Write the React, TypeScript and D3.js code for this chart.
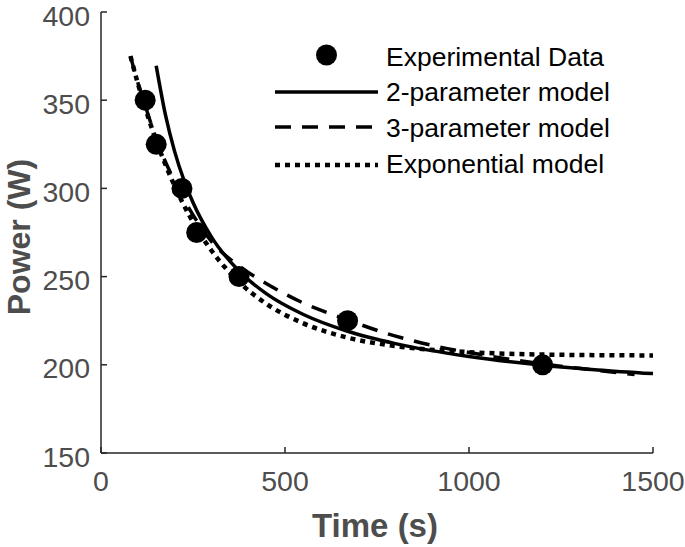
import React from "react";
import * as d3 from "d3";

const xTicks = [0, 500, 1000, 1500];
const yTicks = [150, 200, 250, 300, 350, 400];

const dataT = [120, 150, 220, 260, 375, 670, 1200];
const dataP = [350, 325, 300, 275, 250, 225, 200];

const twoParamT = [150, 175, 200, 225, 250, 300, 375, 450, 550, 670, 800, 1000, 1200, 1350, 1500];
const twoParamP = [369.5, 341.8, 321, 304.9, 292, 272.5, 253.2, 240.2, 228.5, 219, 212, 204.7, 199.8, 197.1, 195];

const threeParamT = [80, 100, 120, 150, 200, 250, 300, 375, 450, 550, 670, 765, 900, 1000, 1100, 1200, 1300, 1450];
const threeParamP = [375, 360, 347, 328, 304, 285, 270, 256, 246, 235, 225.5, 218.5, 211, 207, 203.5, 200.5, 198, 194.5];

const expT = [80, 100, 120, 150, 180, 220, 260, 300, 375, 450, 550, 670, 800, 1000, 1200, 1500];
const expP = [375, 359.6, 345.7, 327, 311, 292.6, 277.4, 264.8, 247, 234.5, 223.5, 215.4, 210.6, 207.2, 205.8, 205.3];

const legendLabels = ["Experimental Data", "2-parameter model", "3-parameter model", "Exponential model"];

const W = 685;
const H = 547;
const left = 101;
const right = 653;
const top = 12;
const bottom = 453;

export default function App() {
  const x = d3.scaleLinear().domain([0, 1500]).range([left, right]);
  const y = d3.scaleLinear().domain([150, 400]).range([bottom, top]);
  const line = d3
    .line<[number, number]>()
    .x((d) => x(d[0]))
    .y((d) => y(d[1]))
    .curve(d3.curveMonotoneX);

  const zip = (a: number[], b: number[]) => a.map((v, i) => [v, b[i]] as [number, number]);

  const axisColor = "#262626";
  const textColor = "#4d4d4d";
  const font = "'Liberation Sans', Arial, Helvetica, sans-serif";
  const lw = 3.5;

  const legX1 = 275;
  const legX2 = 378;
  const legTextX = 386;
  const legLineY = [55, 92, 127, 165];
  const legTextY = [57, 92, 128, 164];

  return (
    <div style={{ position: "absolute", left: 0, top: 0 }}>
      <svg width={W} height={H} style={{ display: "block", background: "#fff" }}>
        {/* axes */}
        <line x1={left} x2={left} y1={top} y2={bottom} stroke={axisColor} strokeWidth={1.5} />
        <line x1={left} x2={right} y1={bottom} y2={bottom} stroke={axisColor} strokeWidth={1.5} />
        {yTicks.map((t) => (
          <g key={"y" + t}>
            <line x1={left} x2={left + 6} y1={y(t)} y2={y(t)} stroke={axisColor} strokeWidth={1.5} />
            <text
              x={left - 11}
              y={y(t) + 3.5}
              textAnchor="end"
              dominantBaseline="central"
              fontFamily={font}
              fontSize={28.5}
              fill={textColor}
            >
              {t}
            </text>
          </g>
        ))}
        {xTicks.map((t) => (
          <g key={"x" + t}>
            <line x1={x(t)} x2={x(t)} y1={bottom} y2={bottom - 6} stroke={axisColor} strokeWidth={1.5} />
            <text
              x={x(t)}
              y={bottom + 38}
              textAnchor="middle"
              fontFamily={font}
              fontSize={28.5}
              fill={textColor}
            >
              {t}
            </text>
          </g>
        ))}
        <text
          x={375}
          y={537}
          textAnchor="middle"
          fontFamily={font}
          fontSize={33}
          fontWeight="bold"
          fill={textColor}
        >
          Time (s)
        </text>
        <text
          transform={`translate(30, 237) rotate(-90)`}
          textAnchor="middle"
          fontFamily={font}
          fontSize={32}
          fontWeight="bold"
          fill={textColor}
        >
          Power (W)
        </text>

        {/* model curves */}
        <path d={line(zip(twoParamT, twoParamP)) || ""} fill="none" stroke="#000" strokeWidth={lw} />
        <path
          d={line(zip(threeParamT, threeParamP)) || ""}
          fill="none"
          stroke="#000"
          strokeWidth={lw}
          strokeDasharray="16,11"
        />
        <path
          d={line(zip(expT, expP)) || ""}
          fill="none"
          stroke="#000"
          strokeWidth={lw + 1}
          strokeDasharray="5,5"
        />

        {/* data */}
        {dataT.map((t, i) => (
          <circle key={"d" + i} cx={x(t)} cy={y(dataP[i])} r={10.5} fill="#000" />
        ))}

        {/* legend */}
        <circle cx={(legX1 + legX2) / 2} cy={legLineY[0]} r={10.5} fill="#000" />
        <line x1={legX1} x2={legX2} y1={legLineY[1]} y2={legLineY[1]} stroke="#000" strokeWidth={lw} />
        <line
          x1={legX1}
          x2={legX2}
          y1={legLineY[2]}
          y2={legLineY[2]}
          stroke="#000"
          strokeWidth={lw}
          strokeDasharray="16,11"
        />
        <line
          x1={legX1}
          x2={legX2}
          y1={legLineY[3]}
          y2={legLineY[3]}
          stroke="#000"
          strokeWidth={lw + 1}
          strokeDasharray="5,5"
        />
        {legendLabels.map((l, i) => (
          <text
            key={l}
            x={legTextX}
            y={legTextY[i]}
            dominantBaseline="central"
            fontFamily={font}
            fontSize={26.5}
            fill="#000"
          >
            {l}
          </text>
        ))}
      </svg>
    </div>
  );
}
